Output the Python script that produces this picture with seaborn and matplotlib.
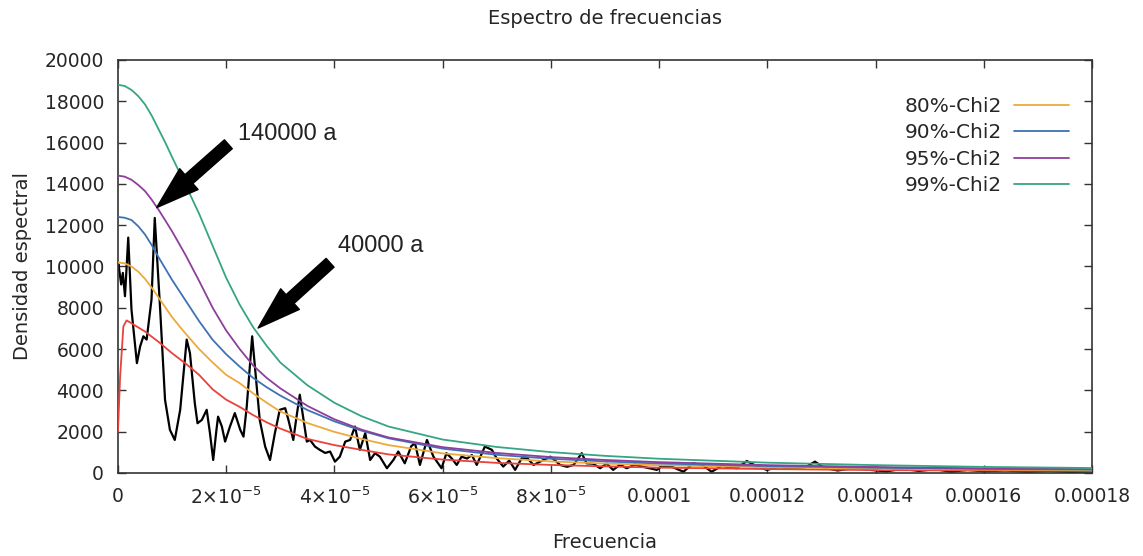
import numpy as np
import matplotlib
matplotlib.use("Agg")
import matplotlib.pyplot as plt
import seaborn as sns

# --- data (frequency in units of 1e-5) ---
chi_f = [0, 0.125, 0.25, 0.375, 0.5, 0.625, 0.75, 0.875, 1.0, 1.125, 1.25, 1.5, 1.75, 2.0,
         2.25, 2.5, 2.75, 3.0, 3.5, 4.0, 4.5, 5.0, 6.0, 7.0, 8.0, 9.0, 10, 12, 14, 16, 18]
chi80 = [10200, 10150, 10000, 9750, 9400, 8970, 8500, 8020, 7550, 7140, 6750, 6000, 5350, 4750,
         4350, 3850, 3400, 2980, 2420, 1990, 1650, 1350, 950, 720, 560, 455, 375, 275, 210, 165, 135]
chi90 = [12400, 12360, 12250, 11950, 11550, 11030, 10450, 9900, 9350, 8850, 8350, 7350, 6450, 5750,
         5150, 4600, 4150, 3750, 3050, 2500, 2050, 1680, 1180, 880, 690, 560, 460, 335, 255, 200, 165]
chi95 = [14400, 14350, 14200, 13950, 13650, 13230, 12750, 12230, 11700, 11130, 10550, 9300, 8000, 6900,
         6000, 5200, 4600, 4100, 3250, 2600, 2100, 1720, 1250, 970, 770, 630, 525, 380, 290, 225, 185]
chi99 = [18800, 18740, 18550, 18250, 17850, 17300, 16650, 16000, 15300, 14620, 13950, 12550, 11000, 9450,
         8150, 7050, 6150, 5350, 4250, 3400, 2750, 2250, 1620, 1260, 1010, 830, 690, 500, 380, 295, 240]

red_f = [0, 0.04, 0.1, 0.16, 0.25, 0.5, 0.75, 1.0, 1.25, 1.5, 1.75, 2.0, 2.25, 2.5, 2.75,
         3.0, 3.5, 4.0, 4.5, 5.0, 6.0, 7.0, 8.0, 9.0, 10, 12, 14, 16, 18]
red_v = [2000, 4670, 7100, 7390, 7250, 6850, 6350, 5800, 5300, 4750, 4050, 3550, 3200, 2800, 2450,
         2150, 1650, 1350, 1120, 900, 650, 490, 390, 320, 260, 190, 140, 115, 95]

spec_f = [0, 0.01, 0.06, 0.09, 0.13, 0.19, 0.25, 0.35, 0.41, 0.47, 0.53, 0.62, 0.68, 0.78,
          0.87, 0.96, 1.05, 1.15, 1.27, 1.33, 1.42, 1.47, 1.55, 1.64, 1.70, 1.76, 1.82, 1.85,
          1.92, 1.98, 2.07, 2.16, 2.26, 2.32, 2.38, 2.48, 2.53, 2.62, 2.72, 2.81, 2.90, 2.99,
          3.09, 3.15, 3.24, 3.30, 3.36, 3.43, 3.49, 3.55, 3.64, 3.73, 3.83, 3.92, 4.01, 4.10,
          4.20, 4.29, 4.38, 4.47, 4.57, 4.66, 4.75, 4.84, 4.97, 5.09, 5.18, 5.30, 5.42, 5.49,
          5.58, 5.71, 5.83, 5.98, 6.07, 6.17, 6.26, 6.35, 6.45, 6.54, 6.63, 6.78, 6.91, 7.00,
          7.12, 7.23, 7.34, 7.46, 7.57, 7.68, 7.84, 7.99, 8.08, 8.17, 8.30, 8.42, 8.57, 8.66,
          8.78, 8.91, 9.03, 9.15, 9.28, 9.40, 9.55, 9.70, 9.96, 10.05, 10.2, 10.45, 10.63, 10.8,
          10.97, 11.15, 11.44, 11.62, 11.8, 11.99, 12.2, 12.45, 12.7, 12.88, 13.05, 13.3, 13.6,
          13.9, 14.2, 14.5, 14.8, 15.1, 15.4, 15.7, 16.0, 16.4, 16.8, 17.2, 17.6, 18.0]
spec_v = [9850, 10100, 9130, 9690, 8560, 11400, 7910, 5320, 6130, 6620, 6460, 8400, 12350, 7910,
          3540, 2090, 1600, 3060, 6460, 5810, 3380, 2410, 2570, 3060, 1930, 630, 2090, 2730,
          2250, 1520, 2250, 2900, 2090, 1760, 3220, 6620, 5160, 2570, 1280, 630, 1930, 3060,
          3140, 2570, 1600, 2730, 3790, 2570, 1520, 1600, 1280, 1120, 970, 1040, 550, 790,
          1520, 1600, 2250, 1120, 1930, 630, 960, 790, 230, 630, 1040, 470, 1300, 1440,
          390, 1600, 790, 230, 960, 700, 390, 790, 700, 870, 390, 1280, 1120, 700,
          310, 600, 150, 710, 700, 390, 600, 790, 600, 390, 300, 390, 960, 470,
          450, 230, 450, 150, 400, 230, 400, 300, 150, 330, 340, 60, 470, 380,
          60, 330, 230, 580, 330, 150, 270, 220, 270, 550, 250, 120, 240,
          150, 80, 200, 100, 180, 60, 150, 80, 120, 60, 100, 50, 80]

legend_labels = ["80%-Chi2", "90%-Chi2", "95%-Chi2", "99%-Chi2"]
colors = ["#eea93c", "#3d72b4", "#8d3f9b", "#35a585"]

xtick_vals = [0, 2, 4, 6, 8, 10, 12, 14, 16, 18]
xtick_labels = ["0", "2×10$^{-5}$", "4×10$^{-5}$", "6×10$^{-5}$", "8×10$^{-5}$",
                "0.0001", "0.00012", "0.00014", "0.00016", "0.00018"]
ytick_vals = list(range(0, 20001, 2000))

# annotations: (text, tip, tail, text position) in (1e-5, density)
notes = [("140000 a", (0.715, 12850), (2.04, 15920), (2.22, 16400)),
         ("40000 a", (2.59, 7020), (3.92, 10180), (4.07, 10970))]

scale = 1e-5

sns.set_theme(style="ticks")
plt.rcParams['font.family'] = ['DejaVu Sans']
plt.rcParams['xtick.direction'] = 'in'
plt.rcParams['ytick.direction'] = 'in'

fig = plt.figure(figsize=(11.43, 5.56), dpi=100)
ax = fig.add_axes([0.1032, 0.1493, 0.8522, 0.7428])

sns.lineplot(x=np.array(spec_f) * scale, y=spec_v, ax=ax, color="black", lw=1.6, zorder=2)
sns.lineplot(x=np.array(red_f) * scale, y=red_v, ax=ax, color="#e8423a", lw=1.3, zorder=3)
for vals, lab, col in zip([chi80, chi90, chi95, chi99], legend_labels, colors):
    sns.lineplot(x=np.array(chi_f) * scale, y=vals, ax=ax, color=col, lw=1.3,
                 label=lab, zorder=3)

for txt, tip, tail, tpos in notes:
    ax.annotate("", xy=(tip[0] * scale, tip[1]), xytext=(tail[0] * scale, tail[1]),
                arrowprops=dict(arrowstyle="simple,head_length=3.1,head_width=2.0,tail_width=0.85",
                                color="black", mutation_scale=10, shrinkA=0, shrinkB=0),
                zorder=5)
    ax.text(tpos[0] * scale, tpos[1], txt, fontsize=17, family=['Liberation Sans'],
            va="center", ha="left", color="#222222")

ax.set_xlim(0, 18 * scale)
ax.set_ylim(0, 20000)
ax.set_xticks([v * scale for v in xtick_vals])
ax.set_xticklabels(xtick_labels)
ax.set_yticks(ytick_vals)
ax.tick_params(axis='both', which='major', labelsize=13.5, length=6, width=1,
               top=True, right=True, color='#333333', pad=10)
for s in ax.spines.values():
    s.set_visible(True)
    s.set_color('#333333')
    s.set_linewidth(1.2)

ax.set_xlabel("Frecuencia", fontsize=14, labelpad=18)
ax.set_ylabel("Densidad espectral", fontsize=14, labelpad=9)
ax.set_title("Espectro de frecuencias", fontsize=14, pad=26)

leg = ax.legend(loc="upper right", frameon=False, markerfirst=False, fontsize=14.5,
                handlelength=2.75, handletextpad=0.6, labelspacing=0.37,
                bbox_to_anchor=(0.995, 0.955))

fig.savefig("out.png", dpi=100)
